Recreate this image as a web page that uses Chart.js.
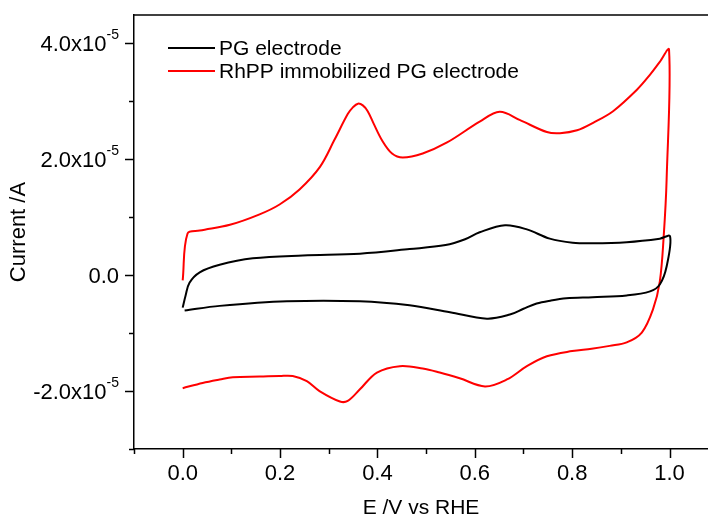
<!DOCTYPE html>
<html>
<head>
<meta charset="utf-8">
<script src="https://cdn.jsdelivr.net/npm/chart.js@4.4.1/dist/chart.umd.min.js"></script>
<style>
  html, body { margin: 0; padding: 0; background: #fff; }
  #wrap { width: 708px; height: 521px; }
</style>
</head>
<body>
<div id="wrap"><canvas id="cv"></canvas></div>
<script>
// Cyclic voltammograms, current in units of 1e-5 A
const seriesNames = ['PG electrode', 'RhPP immobilized PG electrode'];

// PG electrode (black)
const pgE = [0.000, 0.006, 0.014, 0.035, 0.076, 0.144, 0.247, 0.364, 0.466, 0.540, 0.580, 0.610, 0.662, 0.707, 0.754, 0.801, 0.842, 0.912, 0.980, 1.001,
             0.994, 0.980, 0.960, 0.912, 0.842, 0.788, 0.755, 0.727, 0.700, 0.672, 0.625, 0.549, 0.466, 0.364, 0.214, 0.076, 0.004];
const pgI = [-0.56, -0.35, -0.13, 0.05, 0.18, 0.29, 0.34, 0.37, 0.45, 0.52, 0.62, 0.74, 0.86, 0.79, 0.63, 0.56, 0.55, 0.57, 0.63, 0.67,
             0.15, -0.16, -0.28, -0.35, -0.38, -0.40, -0.44, -0.49, -0.58, -0.68, -0.75, -0.64, -0.52, -0.45, -0.45, -0.53, -0.61];

// RhPP immobilized PG electrode (red)
const rhE = [0.000, 0.010, 0.035, 0.097, 0.158, 0.199, 0.240, 0.282, 0.312, 0.339, 0.350, 0.360, 0.370, 0.380, 0.392, 0.410, 0.430, 0.452, 0.493, 0.543, 0.610, 0.651,
             0.692, 0.748, 0.775, 0.810, 0.843, 0.884, 0.933, 0.960, 0.980, 0.999,
             0.994, 0.988, 0.980, 0.966, 0.943, 0.912, 0.877, 0.840, 0.800, 0.748, 0.707, 0.666, 0.621, 0.569, 0.528, 0.493, 0.446, 0.399, 0.364,
             0.339, 0.323, 0.281, 0.255, 0.226, 0.199, 0.158, 0.103, 0.076, 0.041, 0.000];
const rhI = [-0.09, 0.72, 0.77, 0.87, 1.05, 1.22, 1.48, 1.87, 2.34, 2.78, 2.90, 2.96, 2.93, 2.83, 2.62, 2.32, 2.10, 2.03, 2.10, 2.29, 2.65, 2.82,
             2.68, 2.47, 2.45, 2.50, 2.63, 2.83, 3.20, 3.46, 3.68, 3.89,
             1.65, 0.67, -0.11, -0.59, -0.99, -1.16, -1.22, -1.27, -1.31, -1.40, -1.57, -1.80, -1.92, -1.78, -1.68, -1.61, -1.57, -1.68, -1.97,
             -2.17, -2.18, -2.00, -1.83, -1.74, -1.74, -1.75, -1.76, -1.80, -1.86, -1.95];

// axes
const xTicks = [-0.1, 0.0, 0.1, 0.2, 0.3, 0.4, 0.5, 0.6, 0.7, 0.8, 0.9, 1.0];
const xTickLabels = ['', '0.0', '', '0.2', '', '0.4', '', '0.6', '', '0.8', '', '1.0'];
const yTicks = [-3, -2, -1, 0, 1, 2, 3, 4];
const yTickLabels = ['', '-2.0x10', '', '0.0', '', '2.0x10', '', '4.0x10'];
const yTickExp = ['', '-5', '', '', '', '-5', '', '-5'];

const FONT = 'Arial, "Liberation Sans", sans-serif';

function toPoints(xs, ys) {
    return xs.map((x, i) => ({ x: x, y: ys[i] }));
}

// draws tick marks, y tick labels with exponent, top frame line and the legend
const decorPlugin = {
    id: 'decor',
    afterDraw(chart) {
        const ctx = chart.ctx;
        const area = chart.chartArea;
        const xs = chart.scales.x;
        const ys = chart.scales.y;
        ctx.save();
        ctx.strokeStyle = '#000';
        ctx.lineWidth = 1.5;

        // top frame
        ctx.beginPath();
        ctx.moveTo(area.left, area.top);
        ctx.lineTo(area.right, area.top);
        ctx.stroke();

        // x tick marks
        xTicks.forEach((v, i) => {
            const px = Math.round(xs.getPixelForValue(v)) + 0.5;
            const len = xTickLabels[i] ? 9 : 5;
            ctx.beginPath();
            ctx.moveTo(px, area.bottom);
            ctx.lineTo(px, area.bottom + len);
            ctx.stroke();
        });

        // y tick marks + labels
        yTicks.forEach((v, i) => {
            const py = Math.round(ys.getPixelForValue(v)) + 0.5;
            const major = yTickLabels[i] !== '';
            const len = major ? 9 : 5;
            ctx.beginPath();
            ctx.moveTo(area.left, py);
            ctx.lineTo(area.left - len, py);
            ctx.stroke();
            if (!major) return;
            const right = area.left - 15;
            ctx.fillStyle = '#000';
            ctx.textBaseline = 'middle';
            ctx.textAlign = 'right';
            let expW = 0;
            if (yTickExp[i]) {
                ctx.font = '14px ' + FONT;
                expW = ctx.measureText(yTickExp[i]).width;
                ctx.fillText(yTickExp[i], right, py - 8);
            }
            ctx.font = '22px ' + FONT;
            ctx.fillText(yTickLabels[i], right - expW, py + 1);
        });

        // legend
        const colors = chart.data.datasets.map(d => d.borderColor);
        seriesNames.forEach((name, i) => {
            const ly = 48 + i * 23;
            ctx.strokeStyle = colors[i];
            ctx.lineWidth = 2;
            ctx.beginPath();
            ctx.moveTo(168, ly);
            ctx.lineTo(215, ly);
            ctx.stroke();
            ctx.fillStyle = '#000';
            ctx.font = '21px ' + FONT;
            ctx.textAlign = 'left';
            ctx.textBaseline = 'middle';
            ctx.fillText(name, 219, ly + 1);
        });
        ctx.restore();
    }
};

new Chart(document.getElementById('cv'), {
    type: 'scatter',
    data: {
        datasets: [
            {
                label: seriesNames[0],
                data: toPoints(pgE, pgI),
                showLine: true,
                borderColor: '#000000',
                borderWidth: 2,
                pointRadius: 0,
                tension: 0.35
            },
            {
                label: seriesNames[1],
                data: toPoints(rhE, rhI),
                showLine: true,
                borderColor: '#ff0000',
                borderWidth: 2,
                pointRadius: 0,
                tension: 0.35
            }
        ]
    },
    options: {
        responsive: true,
        maintainAspectRatio: false,
        animation: false,
        layout: { padding: { top: 15, right: 0, left: 0, bottom: 0 } },
        plugins: {
            legend: { display: false },
            tooltip: { enabled: false }
        },
        scales: {
            x: {
                type: 'linear',
                min: -0.1,
                max: 1.079,
                afterBuildTicks: scale => { scale.ticks = xTicks.map(v => ({ value: v })); },
                afterFit: scale => { scale.height = 72; },
                grid: { display: true, drawOnChartArea: false, drawTicks: true, tickLength: 9, tickColor: 'rgba(0,0,0,0)' },
                border: { display: true, color: '#000', width: 1.5 },
                ticks: {
                    color: '#000',
                    padding: 3,
                    maxRotation: 0,
                    autoSkip: false,
                    font: { family: FONT, size: 22 },
                    callback: (v, i) => xTickLabels[i]
                },
                title: {
                    display: true,
                    text: 'E /V vs RHE',
                    color: '#000',
                    font: { family: FONT, size: 21 },
                    padding: { top: 0, bottom: 0 }
                }
            },
            y: {
                type: 'linear',
                min: -3,
                max: 4.49,
                afterBuildTicks: scale => { scale.ticks = yTicks.map(v => ({ value: v })); },
                afterFit: scale => { scale.width = 134; },
                grid: { display: true, drawOnChartArea: false, drawTicks: true, tickLength: 9, tickColor: 'rgba(0,0,0,0)' },
                border: { display: true, color: '#000', width: 1.5 },
                ticks: { display: false },
                title: {
                    display: true,
                    text: 'Current /A',
                    color: '#000',
                    font: { family: FONT, size: 22 },
                    padding: { top: 6, bottom: 0 }
                }
            }
        }
    },
    plugins: [decorPlugin]
});
</script>
</body>
</html>
